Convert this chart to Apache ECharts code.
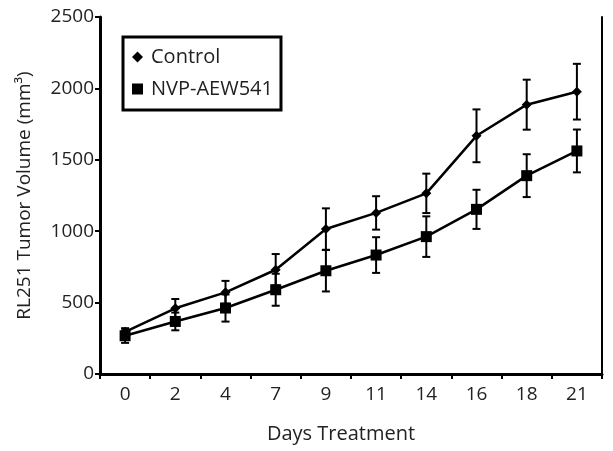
<!DOCTYPE html>
<html>
<head>
<meta charset="utf-8">
<script src="https://cdn.jsdelivr.net/npm/echarts@6/dist/echarts.min.js"></script>
<style>
  html, body { margin: 0; padding: 0; background: #fff; }
  #chart { width: 613px; height: 451px; }
</style>
</head>
<body>
<div id="chart"></div>
<script>
// Tumor volume over the treatment period (mean ± error)
const days = ['0', '2', '4', '7', '9', '11', '14', '16', '18', '21'];
const controlMean = [295, 460, 572, 730, 1015, 1128, 1265, 1668, 1886, 1977];
const controlErr  = [25, 65, 80, 110, 145, 117, 138, 185, 175, 195];
const nvpMean = [268, 368, 462, 590, 723, 833, 962, 1153, 1389, 1562];
const nvpErr  = [50, 62, 95, 112, 145, 125, 142, 137, 150, 150];
const yTicks = [0, 500, 1000, 1500, 2000, 2500];

const font = '"Open Sans", "Liberation Sans", sans-serif';
const textColor = '#222';

function errorData(means, errs) {
  return means.map((m, i) => [i, m - errs[i], m + errs[i]]);
}

// Vertical whisker with short caps at both ends
function renderErrorBar(params, api) {
  const x = api.value(0);
  const lo = api.coord([x, api.value(1)]);
  const hi = api.coord([x, api.value(2)]);
  const half = 4;
  const style = { stroke: '#000', lineWidth: 2 };
  return {
    type: 'group',
    children: [
      { type: 'line', shape: { x1: hi[0], y1: hi[1], x2: lo[0], y2: lo[1] }, style },
      { type: 'line', shape: { x1: hi[0] - half, y1: hi[1], x2: hi[0] + half, y2: hi[1] }, style },
      { type: 'line', shape: { x1: lo[0] - half, y1: lo[1], x2: lo[0] + half, y2: lo[1] }, style }
    ]
  };
}

const chart = echarts.init(document.getElementById('chart'), null, { renderer: 'canvas' });

// Top and right edges of the plot frame: bare axis lines only
const frameAxis = {
  axisLine: { show: true, lineStyle: { color: '#000', width: 2 } },
  axisTick: { show: false },
  axisLabel: { show: false },
  splitLine: { show: false },
  minorTick: { show: false }
};

chart.setOption({
  animation: false,
  backgroundColor: '#fff',
  grid: { left: 100, right: 11, top: 17, bottom: 77 },
  legend: {
    left: 123, top: 37,
    orient: 'vertical',
    padding: [10, 8, 11, 9],
    itemGap: 12,
    itemWidth: 11, itemHeight: 11,
    borderColor: '#000', borderWidth: 3,
    textStyle: { fontFamily: font, fontSize: 20, color: textColor, padding: [0, 0, 0, 3] },
    data: [
      { name: 'Control', icon: 'diamond' },
      { name: 'NVP-AEW541', icon: 'rect' }
    ]
  },
  xAxis: [
    {
      type: 'category',
      data: days,
      boundaryGap: true,
      name: 'Days Treatment',
      nameLocation: 'middle',
      nameGap: 50,
      nameTextStyle: { fontFamily: font, fontSize: 20, color: textColor, padding: [0, 20, 0, 0] },
      axisLine: { lineStyle: { color: '#000', width: 3 } },
      axisTick: { show: true, length: 5, lineStyle: { color: '#000', width: 2 } },
      axisLabel: { fontFamily: font, fontSize: 19, color: textColor, margin: 11 },
      splitLine: { show: false },
      z: 5
    },
    Object.assign({ type: 'category', data: days, position: 'top', boundaryGap: true }, frameAxis)
  ],
  yAxis: [
    {
      type: 'value',
      min: yTicks[0],
      max: yTicks[yTicks.length - 1],
      interval: 500,
      name: 'RL251 Tumor Volume (mm³)',
      nameLocation: 'middle',
      nameGap: 66,
      nameTextStyle: { fontFamily: font, fontSize: 19, color: textColor },
      axisLine: { show: true, lineStyle: { color: '#000', width: 3 } },
      axisTick: { show: true, length: 5, lineStyle: { color: '#000', width: 2 } },
      axisLabel: { fontFamily: font, fontSize: 19, color: textColor, margin: 6, formatter: v => String(v) },
      splitLine: { show: false },
      z: 5
    },
    Object.assign({
      type: 'value', position: 'right',
      min: yTicks[0], max: yTicks[yTicks.length - 1], interval: 500
    }, frameAxis)
  ],
  series: [
    {
      name: 'Control',
      type: 'line',
      data: controlMean,
      symbol: 'diamond',
      symbolSize: 10,
      itemStyle: { color: '#000' },
      lineStyle: { color: '#000', width: 2.5 },
      z: 3
    },
    {
      name: 'NVP-AEW541',
      type: 'line',
      data: nvpMean,
      symbol: 'rect',
      symbolSize: 11,
      itemStyle: { color: '#000' },
      lineStyle: { color: '#000', width: 2.5 },
      z: 3
    },
    {
      name: 'Control error',
      type: 'custom',
      data: errorData(controlMean, controlErr),
      renderItem: renderErrorBar,
      encode: { x: 0, y: [1, 2] },
      z: 2
    },
    {
      name: 'NVP-AEW541 error',
      type: 'custom',
      data: errorData(nvpMean, nvpErr),
      renderItem: renderErrorBar,
      encode: { x: 0, y: [1, 2] },
      z: 2
    }
  ]
});
</script>
</body>
</html>
